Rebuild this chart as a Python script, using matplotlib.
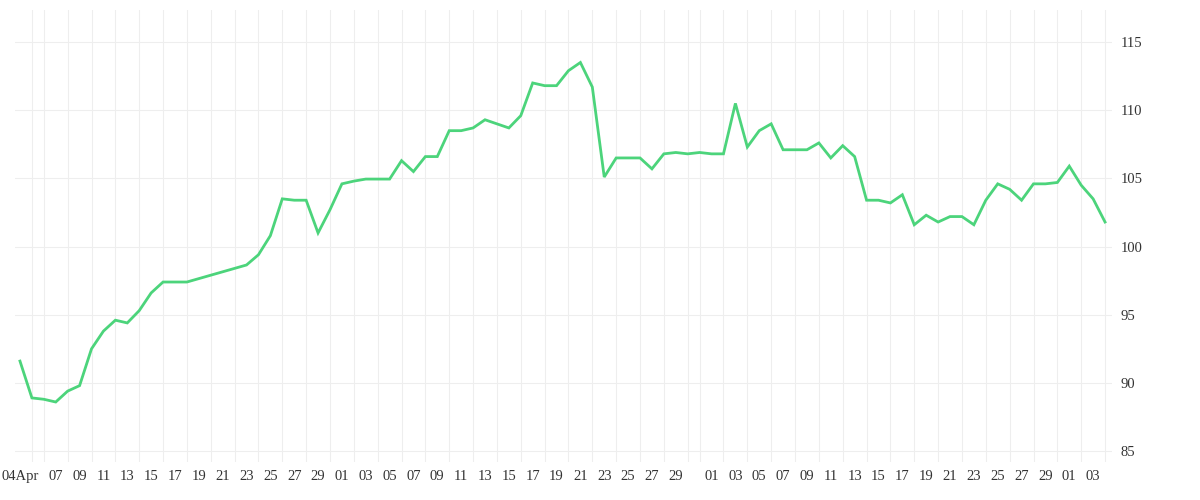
import numpy as np
import pandas as pd
import matplotlib.pyplot as plt
import matplotlib.dates as mdates

start_date = '2023-04-04'
values = [
    91.6, 88.9, 88.8, 88.6, 89.4, 89.8, 92.5, 93.8, 94.6, 94.4,    # Apr 4-13
    95.3, 96.6, 97.4, 97.4, 97.4, 97.65, 97.9, 98.15, 98.4, 98.65,  # Apr 14-23
    99.4, 100.8, 103.5, 103.4, 103.4, 101.0, 102.7,                 # Apr 24-30
    104.6, 104.8, 104.95, 104.95, 104.95, 106.3, 105.5, 106.6, 106.6, 108.5,  # May 1-10
    108.5, 108.7, 109.3, 109.0, 108.7, 109.6, 112.0, 111.8, 111.8, 112.9,     # May 11-20
    113.5, 111.7, 105.1, 106.5, 106.5, 106.5, 105.7, 106.8, 106.9, 106.8, 106.9,  # May 21-31
    106.8, 106.8, 110.5, 107.3, 108.5, 109.0, 107.1, 107.1, 107.1, 107.6,     # Jun 1-10
    106.5, 107.4, 106.6, 103.4, 103.4, 103.2, 103.8, 101.6, 102.3, 101.8,     # Jun 11-20
    102.2, 102.2, 101.6, 103.4, 104.6, 104.2, 103.4, 104.6, 104.6, 104.7,     # Jun 21-30
    105.9, 104.5, 103.5, 101.8,                                               # Jul 1-4
]
dates = pd.date_range(start_date, periods=len(values), freq='D')

tick_dates = pd.to_datetime(
    ['2023-04-04'] + [f'2023-04-{d:02d}' for d in range(7, 30, 2)]
    + [f'2023-05-{d:02d}' for d in range(1, 30, 2)]
    + [f'2023-06-{d:02d}' for d in range(1, 30, 2)]
    + ['2023-07-01', '2023-07-03'])
tick_labels = ['04Apr'] + [d.strftime('%d') for d in tick_dates[1:]]
y_ticks = [85, 90, 95, 100, 105, 110, 115]

fig = plt.figure(figsize=(12, 5), dpi=100)
ax = fig.add_axes([15 / 1200, 38 / 500, 1097 / 1200, 452 / 500])

ax.plot(dates, values, color='#4cd47b', lw=2.0, solid_joinstyle='miter')

# daily vertical grid, horizontal every 5
ax.set_xticks(dates, minor=True)
ax.grid(which='minor', axis='x', color='#eeeeee', lw=0.8)
ax.grid(which='major', axis='y', color='#eeeeee', lw=0.8)
ax.tick_params(which='minor', length=0)

ax.set_xticks(tick_dates)
ax.set_xticklabels(tick_labels)
ax.set_yticks(y_ticks)
ax.yaxis.tick_right()
ax.tick_params(length=0, labelsize=10.5, labelcolor='#333333', pad=6)
for lab in ax.get_xticklabels() + ax.get_yticklabels():
    lab.set_fontfamily('Liberation Serif')

ax.set_xlim(dates[0] - pd.Timedelta(hours=10), dates[-1] + pd.Timedelta(hours=14))
ax.set_ylim(84.2, 117.35)
for s in ax.spines.values():
    s.set_visible(False)

fig.savefig('out.png', dpi=100)
